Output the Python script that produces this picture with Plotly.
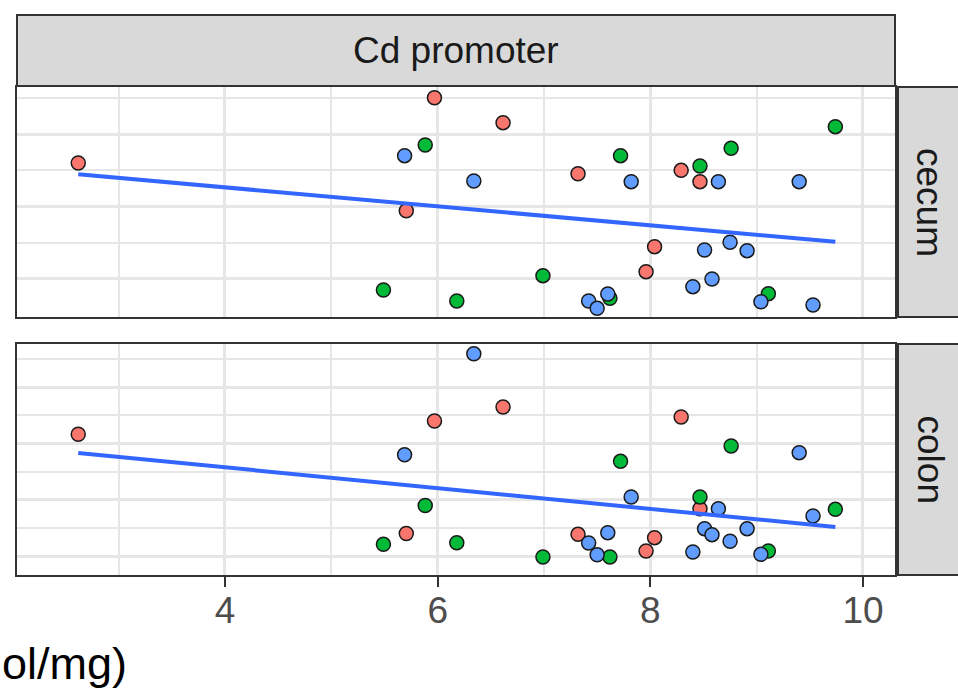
import numpy as np
import plotly.graph_objects as go

W, H = 958, 691

# ---- data ----
groups = ["red", "green", "blue"]
group_colors = {"red": "#F8766D", "green": "#00BA38", "blue": "#619CFF"}

x_red = [2.62, 5.97, 6.615, 5.705, 7.32, 8.29, 8.467, 8.04, 7.96]
cecum_red = [2.602, 3.504, 3.159, 1.943, 2.454, 2.501, 2.344, 1.446, 1.101]
colon_red = [2.166, 2.402, 2.651, 0.400, 0.386, 2.473, 0.842, 0.326, 0.089]

x_green = [5.883, 5.49, 6.18, 6.99, 7.72, 8.467, 7.62, 9.74, 8.76, 9.11]
cecum_green = [2.851, 0.848, 0.696, 1.046, 2.703, 2.561, 0.733, 3.104, 2.805, 0.797]
colon_green = [0.899, 0.208, 0.235, -0.018, 1.685, 1.050, -0.018, 0.831, 1.957, 0.089]

x_blue = [5.689, 6.34, 7.82, 8.64, 8.51, 8.58, 8.40, 7.42, 7.50, 7.60, 9.40, 8.75, 8.91, 9.04, 9.53]
cecum_blue = [2.703, 2.354, 2.344, 2.344, 1.401, 1.000, 0.894, 0.696, 0.595, 0.793, 2.344, 1.507, 1.391, 0.686, 0.641]
colon_blue = [1.801, 3.598, 1.050, 0.842, 0.486, 0.379, 0.071, 0.231, 0.023, 0.415, 1.838, 0.262, 0.486, 0.030, 0.712]

x_ticks = [4, 6, 8, 10]
x_tick_labels = ["4", "6", "8", "10"]
strip_top = "Cd promoter"
strip_rows = ["cecum", "colon"]
x_title_visible = "ol/mg)"

xs = {"red": x_red, "green": x_green, "blue": x_blue}
ys = {
    "cecum": {"red": cecum_red, "green": cecum_green, "blue": cecum_blue},
    "colon": {"red": colon_red, "green": colon_green, "blue": colon_blue},
}

# ---- figure ----
def fx(p):
    return p / W

def fy(p):
    return 1 - p / H

FONT = "Liberation Sans, Arial, Helvetica, sans-serif"
GRID = "#E6E6E6"
BORDER = "#333333"

fig = go.Figure()

panels = [("cecum", "x", "y"), ("colon", "x2", "y2")]
for tissue, xa, ya in panels:
    for g in groups:
        fig.add_trace(go.Scatter(
            x=xs[g], y=ys[tissue][g], xaxis=xa, yaxis=ya, mode="markers",
            marker=dict(size=14, color=group_colors[g], line=dict(color="#1a1a1a", width=1.5)),
            showlegend=False, hoverinfo="skip"))
    allx = np.array(x_red + x_green + x_blue)
    ally = np.array(ys[tissue]["red"] + ys[tissue]["green"] + ys[tissue]["blue"])
    slope, icpt = np.polyfit(allx, ally, 1)
    lx = np.array([allx.min(), allx.max()])
    fig.add_trace(go.Scatter(
        x=lx, y=slope * lx + icpt, xaxis=xa, yaxis=ya, mode="lines",
        line=dict(color="#3366FF", width=4), showlegend=False, hoverinfo="skip"))

x_dom = [fx(17), fx(895)]
x_range = [2.044, 10.301]
common_x = dict(
    domain=x_dom, range=x_range, tickmode="array", tickvals=x_ticks, ticktext=x_tick_labels,
    showgrid=True, gridcolor=GRID, gridwidth=2.5,
    minor=dict(tickvals=[3, 5, 7, 9], showgrid=True, gridcolor=GRID, gridwidth=1.5, ticks=""),
    showline=True, mirror=True, linecolor=BORDER, linewidth=2, zeroline=False,
    tickfont=dict(family=FONT, size=37, color="#4D4D4D"),
)

fig.update_layout(
    width=W, height=H, margin=dict(l=0, r=0, t=0, b=0),
    paper_bgcolor="white", plot_bgcolor="white",
    xaxis=dict(common_x, anchor="y", showticklabels=False, ticks="", matches="x2"),
    xaxis2=dict(common_x, anchor="y2", ticks="outside", ticklen=10, tickwidth=2, tickcolor=BORDER,
                ticklabelstandoff=-8),
    yaxis=dict(domain=[fy(317), fy(87)], range=[0.475, 3.652], anchor="x",
               tickmode="array", tickvals=[1, 2, 3], showticklabels=False, ticks="",
               showgrid=True, gridcolor=GRID, gridwidth=2.5,
               minor=dict(tickvals=[1.5, 2.5, 3.5], showgrid=True, gridcolor=GRID, gridwidth=1.5),
               showline=True, mirror=True, linecolor=BORDER, linewidth=2, zeroline=False),
    yaxis2=dict(domain=[fy(575), fy(344)], range=[-0.338, 3.772], anchor="x2",
                tickmode="array", tickvals=[0, 1, 2, 3], showticklabels=False, ticks="",
                showgrid=True, gridcolor=GRID, gridwidth=2.5,
                minor=dict(tickvals=[0.5, 1.5, 2.5, 3.5], showgrid=True, gridcolor=GRID, gridwidth=1.5),
                showline=True, mirror=True, linecolor=BORDER, linewidth=2, zeroline=False),
)

shapes = [
    dict(type="rect", xref="paper", yref="paper", x0=fx(17), x1=fx(895), y0=fy(86), y1=fy(15),
         fillcolor="#D9D9D9", line=dict(color=BORDER, width=2), layer="below"),
    dict(type="rect", xref="paper", yref="paper", x0=fx(898), x1=fx(975), y0=fy(317), y1=fy(87),
         fillcolor="#D9D9D9", line=dict(color=BORDER, width=2), layer="below"),
    dict(type="rect", xref="paper", yref="paper", x0=fx(898), x1=fx(975), y0=fy(575), y1=fy(344),
         fillcolor="#D9D9D9", line=dict(color=BORDER, width=2), layer="below"),
]
fig.update_layout(shapes=shapes)

annotations = [
    dict(text=strip_top, xref="paper", yref="paper", x=fx(456), y=fy(50), showarrow=False,
         xanchor="center", yanchor="middle", font=dict(family=FONT, size=37, color="#1A1A1A")),
    dict(text=strip_rows[0], xref="paper", yref="paper", x=fx(930), y=fy(202), showarrow=False,
         textangle=90, xanchor="center", yanchor="middle", font=dict(family=FONT, size=37, color="#1A1A1A")),
    dict(text=strip_rows[1], xref="paper", yref="paper", x=fx(930), y=fy(459.5), showarrow=False,
         textangle=90, xanchor="center", yanchor="middle", font=dict(family=FONT, size=37, color="#1A1A1A")),
    dict(text=x_title_visible, xref="paper", yref="paper", x=fx(0), y=fy(663), showarrow=False,
         xanchor="left", yanchor="middle", font=dict(family=FONT, size=45, color="#000000")),
]
fig.update_layout(annotations=annotations)

fig.write_html("out.html", config={"displayModeBar": False},
               post_script="document.body.style.margin='0px';document.body.style.overflow='hidden';")
